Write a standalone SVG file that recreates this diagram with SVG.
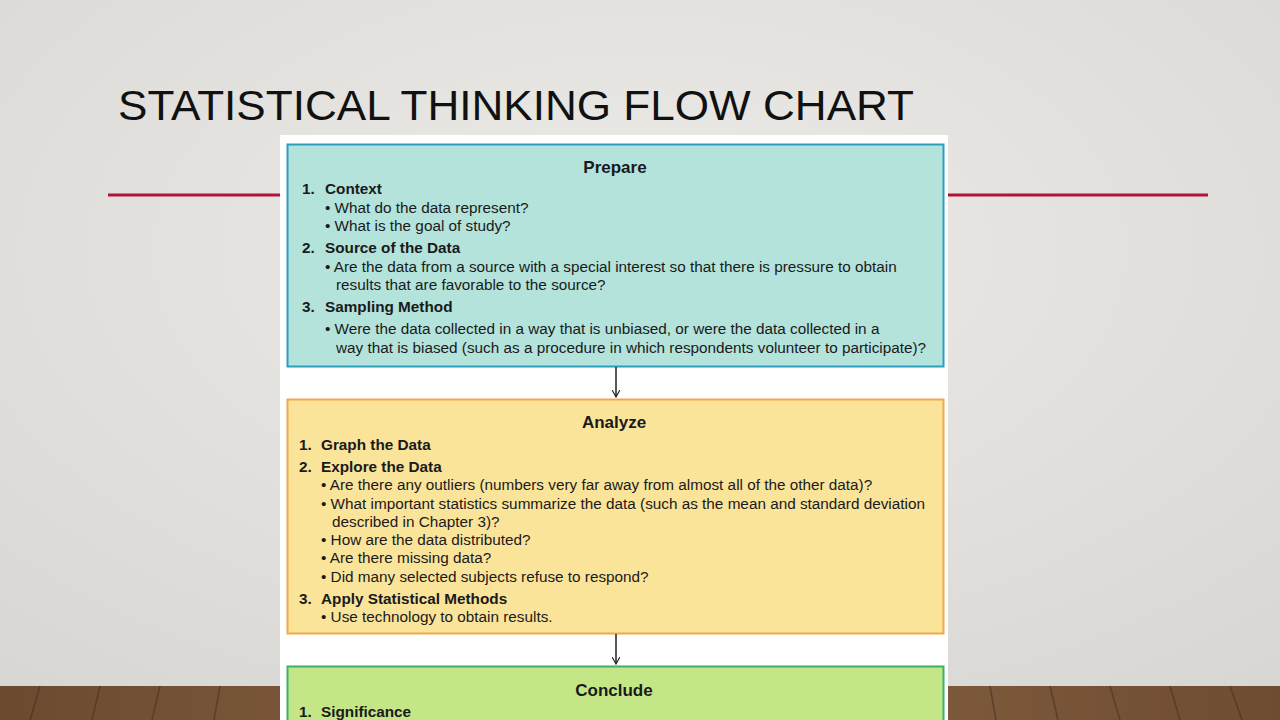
<svg xmlns="http://www.w3.org/2000/svg" width="1280" height="720" viewBox="0 0 1280 720">
<defs>
<radialGradient id="bg" cx="0.5" cy="0.35" r="0.8"><stop offset="0" stop-color="#ecebe8"/><stop offset="1" stop-color="#d8d6d2"/></radialGradient>
<linearGradient id="wood" x1="0" y1="0" x2="1" y2="0"><stop offset="0" stop-color="#6b4a30"/><stop offset="0.5" stop-color="#8a6444"/><stop offset="1" stop-color="#6e4c32"/></linearGradient>
<marker id="ah" viewBox="0 0 10 10" refX="9" refY="5" markerWidth="8" markerHeight="8" orient="auto" markerUnits="userSpaceOnUse"><path d="M0,0 L9,5 L0,10" fill="none" stroke="#222" stroke-width="1.4"/></marker>
<style>
.t{font-family:"Liberation Sans",Arial,sans-serif;font-size:15.3px;fill:#1a1a1a}
.b{font-weight:bold}
.h{font-family:"Liberation Sans",Arial,sans-serif;font-size:17px;font-weight:bold;fill:#1a1a1a;text-anchor:middle}
</style>
</defs>
<rect width="1280" height="720" fill="url(#bg)"/>
<rect y="686" width="1280" height="34" fill="url(#wood)"/>
<g stroke="#4a3020" stroke-width="1.5" opacity="0.6">
<line x1="40" y1="686" x2="30" y2="720"/><line x1="100" y1="686" x2="92" y2="720"/><line x1="160" y1="686" x2="152" y2="720"/><line x1="220" y1="686" x2="214" y2="720"/><line x1="990" y1="686" x2="996" y2="720"/><line x1="1050" y1="686" x2="1058" y2="720"/><line x1="1110" y1="686" x2="1120" y2="720"/><line x1="1170" y1="686" x2="1180" y2="720"/><line x1="1230" y1="686" x2="1242" y2="720"/>
</g>
<text x="118" y="120" font-family="'Gill Sans','Liberation Sans',sans-serif" font-size="42" fill="#111" textLength="796" lengthAdjust="spacingAndGlyphs">STATISTICAL THINKING FLOW CHART</text>
<line x1="108" y1="195" x2="1208" y2="195" stroke="#b3133a" stroke-width="3"/>
<rect x="280" y="135" width="668" height="585" fill="#ffffff"/>
<g id="prepare">
<rect x="287.5" y="144.5" width="656" height="222" fill="#b3e3da" stroke="#2b9ec0" stroke-width="2"/>
<text class="h" x="615" y="173">Prepare</text>
<text class="t b" x="302" y="194">1.</text><text class="t b" x="325" y="194">Context</text>
<text class="t" x="325" y="213">• What do the data represent?</text>
<text class="t" x="325" y="231">• What is the goal of study?</text>
<text class="t b" x="302" y="253">2.</text><text class="t b" x="325" y="253">Source of the Data</text>
<text class="t" x="325" y="272">• Are the data from a source with a special interest so that there is pressure to obtain</text>
<text class="t" x="336" y="290">results that are favorable to the source?</text>
<text class="t b" x="302" y="312">3.</text><text class="t b" x="325" y="312">Sampling Method</text>
<text class="t" x="325" y="334">• Were the data collected in a way that is unbiased, or were the data collected in a</text>
<text class="t" x="336" y="353">way that is biased (such as a procedure in which respondents volunteer to participate)?</text>
</g>
<g id="analyze">
<rect x="287.5" y="399.5" width="656" height="234" fill="#fae49a" stroke="#f0a84a" stroke-width="2"/>
<text class="h" x="614" y="428">Analyze</text>
<text class="t b" x="299" y="450">1.</text><text class="t b" x="321" y="450">Graph the Data</text>
<text class="t b" x="299" y="472">2.</text><text class="t b" x="321" y="472">Explore the Data</text>
<text class="t" x="321" y="490">• Are there any outliers (numbers very far away from almost all of the other data)?</text>
<text class="t" x="321" y="509">• What important statistics summarize the data (such as the mean and standard deviation</text>
<text class="t" x="332" y="527">described in Chapter 3)?</text>
<text class="t" x="321" y="545">• How are the data distributed?</text>
<text class="t" x="321" y="563">• Are there missing data?</text>
<text class="t" x="321" y="582">• Did many selected subjects refuse to respond?</text>
<text class="t b" x="299" y="604">3.</text><text class="t b" x="321" y="604">Apply Statistical Methods</text>
<text class="t" x="321" y="622">• Use technology to obtain results.</text>
</g>
<g id="conclude">
<rect x="287.5" y="666.5" width="656" height="60" fill="#c5e687" stroke="#3bb06a" stroke-width="2"/>
<text class="h" x="614" y="696">Conclude</text>
<text class="t b" x="299" y="717">1.</text><text class="t b" x="321" y="717">Significance</text>
</g>
<g id="connectors" stroke="#222" stroke-width="1.5" fill="none">
<line x1="616" y1="367" x2="616" y2="397" marker-end="url(#ah)"/>
<line x1="616" y1="634" x2="616" y2="664" marker-end="url(#ah)"/>
</g>
</svg>
